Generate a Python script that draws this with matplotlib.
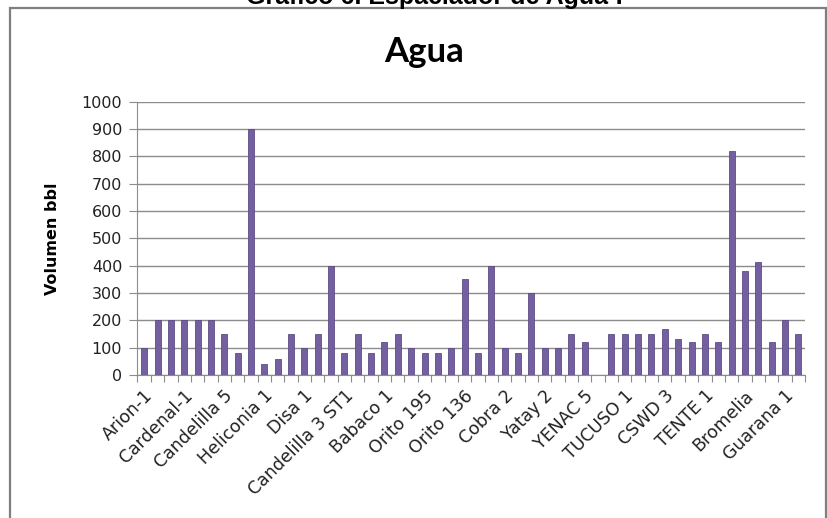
import numpy as np
import matplotlib.pyplot as plt
from matplotlib.patches import Rectangle
from matplotlib.transforms import ScaledTranslation

# volumen de agua por pozo (bbl)
volumen = [100, 200, 200, 200, 200, 200, 150, 80, 900, 40,
           60, 150, 100, 150, 400, 80, 150, 80, 120, 150,
           100, 80, 80, 100, 350, 80, 400, 100, 80, 300,
           100, 100, 150, 120, 0, 150, 150, 150, 150, 170,
           130, 120, 150, 120, 820, 380, 415, 120, 200, 150]

# solo se rotula uno de cada tres pozos
etiquetas = ['Arion-1', 'Cardenal-1', 'Candelilla 5', 'Heliconia 1', 'Disa 1',
             'Candelilla 3 ST1', 'Babaco 1', 'Orito 195', 'Orito 136', 'Cobra 2',
             'Yatay 2', 'YENAC 5', 'TUCUSO 1', 'CSWD 3', 'TENTE 1', 'Bromelia',
             'Guarana 1']
paso = 3

y_ticks = list(range(0, 1001, 100))

fig = plt.figure(figsize=(8.28, 5.18), dpi=100)
W, H = 828, 518

# marco del grafico
fig.patches.append(Rectangle((10 / W, -0.05), (826 - 10) / W, 1.05 - 8 / H,
                             transform=fig.transFigure, fill=False,
                             edgecolor='#7f7f7f', lw=1.6, zorder=0))

fig.text(435 / W, 1 - 4 / H, 'Grafico 6. Espaciador de Agua :',
         ha='center', va='baseline', fontsize=18, fontweight='bold',
         family='Liberation Sans')

ax = fig.add_axes([137.5 / W, 1 - 375 / H, (805 - 137.5) / W, (375 - 101.7) / H])

x = np.arange(len(volumen))
ax.bar(x, volumen, width=0.45, color='#7460a0', edgecolor='#5e4c86',
       linewidth=0.6, zorder=3)

ax.set_xlim(-0.5, len(volumen) - 0.5)
ax.set_ylim(0, 1000)
ax.set_yticks(y_ticks)
ax.yaxis.grid(True, color='#8c8c8c', lw=1, zorder=0)
ax.set_axisbelow(True)

# marcas entre categorias y etiquetas cada tres pozos
ax.set_xticks(np.arange(-0.5, len(volumen), 1))
ax.set_xticklabels([])
ax.tick_params(axis='x', which='major', length=5, color='#8c8c8c', direction='out')
pos = np.arange(0, len(volumen), paso)[:len(etiquetas)]
ax.set_xticks(pos, minor=True)
ax.set_xticklabels(etiquetas, minor=True, rotation=45, ha='right',
                   va='center', rotation_mode='anchor', fontsize=12.5,
                   color='#222222')
ax.tick_params(axis='x', which='minor', length=0, pad=13)
desplaza = ScaledTranslation(6 / 100, 0, fig.dpi_scale_trans)
for lab in ax.get_xticklabels(minor=True):
    lab.set_transform(lab.get_transform() + desplaza)

ax.tick_params(axis='y', length=6, color='#8c8c8c', pad=5, labelsize=11.5,
               labelcolor='#222222')

for s in ['top', 'right']:
    ax.spines[s].set_visible(False)
ax.spines['left'].set_color('#8c8c8c')
ax.spines['bottom'].set_color('#8c8c8c')

ax.set_ylabel('Volumen bbl', fontsize=11.5, fontweight='bold')
ax.yaxis.set_label_coords(-0.116, 0.5)

fig.text(424 / W, 1 - 62 / H, 'Agua', ha='center', va='baseline',
         fontsize=25, fontweight='bold', family='Lato')

fig.savefig('out.png', dpi=100)
